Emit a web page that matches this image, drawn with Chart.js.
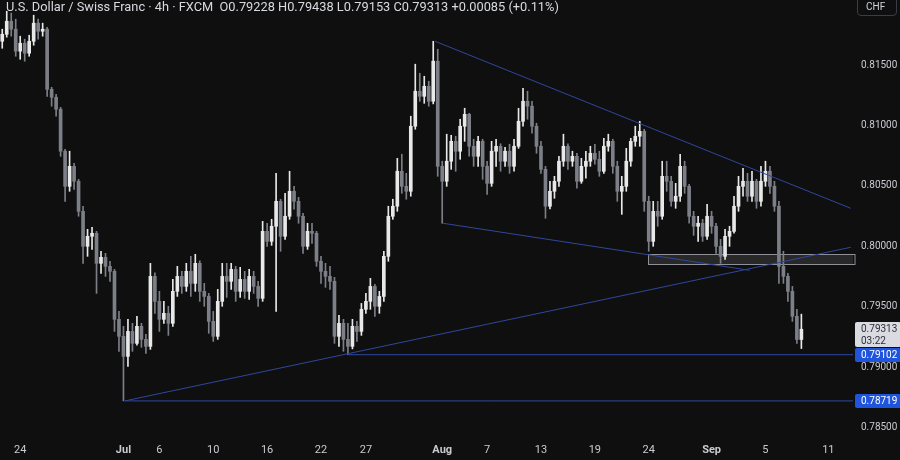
<!DOCTYPE html>
<html lang="en">
<head>
<meta charset="UTF-8">
<script src="https://cdn.jsdelivr.net/npm/chart.js@4.4.0/dist/chart.umd.min.js"></script>
<title>USD/CHF 4h</title>
<style>
  body { margin: 0; background: #0f0f0f; }
  #wrap { position: relative; width: 900px; height: 460px; background: #0f0f0f; }
  #head { position: absolute; left: 6px; top: -1px; font: 12.8px Roboto, sans-serif; color: #d8dae0; white-space: nowrap; }
  #cur { position: absolute; left: 857px; top: -4px; width: 40px; height: 20px; border: 1px solid #3a3d45; border-radius: 4px;
         box-sizing: border-box; padding: 4px 0 0 8px; font: 10px Roboto, sans-serif; color: #d1d4dc; }
</style>
</head>
<body>
<div id="wrap">
  <canvas id="chart"></canvas>
  <div id="head">U.S. Dollar / Swiss Franc · 4h · FXCM &nbsp;O0.79228 H0.79438 L0.79153 C0.79313 +0.00085 (+0.11%)</div>
  <div id="cur">CHF</div>
</div>
<script>
// 4h candles, one slot each (open = previous close)
const firstOpen = 0.81699;
const closes = [
  0.81757, 0.81865, 0.81799, 0.81617, 0.81683, 0.81600, 0.81699, 0.81849, 0.81782, 0.81799,
  0.81301, 0.81235, 0.81136, 0.80788, 0.80497, 0.80663, 0.80539, 0.80290, 0.80000, 0.80083,
  0.80108, 0.79859, 0.79909, 0.79834, 0.79793, 0.79395, 0.79254, 0.79088, 0.79295, 0.79196,
  0.79337, 0.79229, 0.79171, 0.79751, 0.79544, 0.79395, 0.79445, 0.79362, 0.79627, 0.79751,
  0.79668, 0.79793, 0.79693, 0.79859, 0.79627, 0.79585, 0.79378, 0.79254, 0.79544, 0.79751,
  0.79710, 0.79809, 0.79627, 0.79726, 0.79627, 0.79751, 0.79668, 0.79569, 0.80124, 0.80041,
  0.80166, 0.80373, 0.80083, 0.80249, 0.80456, 0.80373, 0.80249, 0.80000, 0.80124, 0.80108,
  0.79876, 0.79793, 0.79751, 0.79710, 0.79254, 0.79362, 0.79229, 0.79171, 0.79337, 0.79295,
  0.79478, 0.79544, 0.79668, 0.79503, 0.79585, 0.79917, 0.80249, 0.80332, 0.80622, 0.80497,
  0.80456, 0.80995, 0.81285, 0.81243, 0.81326, 0.81202, 0.81534, 0.80663, 0.80539, 0.80705,
  0.80870, 0.80788, 0.80995, 0.81094, 0.80829, 0.80746, 0.80870, 0.80663, 0.80522, 0.80788,
  0.80829, 0.80705, 0.80788, 0.80663, 0.80829, 0.81036, 0.81202, 0.81161, 0.80995, 0.80829,
  0.80638, 0.80332, 0.80456, 0.80539, 0.80705, 0.80829, 0.80705, 0.80746, 0.80539, 0.80663,
  0.80705, 0.80771, 0.80721, 0.80622, 0.80829, 0.80870, 0.80663, 0.80456, 0.80497, 0.80705,
  0.80870, 0.80912, 0.80953, 0.80373, 0.80041, 0.80290, 0.80249, 0.80580, 0.80539, 0.80373,
  0.80415, 0.80663, 0.80497, 0.80249, 0.80166, 0.80191, 0.80083, 0.80249, 0.80166, 0.80000,
  0.79917, 0.80083, 0.80124, 0.80332, 0.80497, 0.80539, 0.80415, 0.80539, 0.80373, 0.80539,
  0.80622, 0.80497, 0.80332, 0.79834, 0.79751, 0.79627, 0.79420, 0.79228, 0.79313
];
const highs = [
  0.81799, 0.81948, 0.81932, 0.81882, 0.81741, 0.81716, 0.81749, 0.81915, 0.81882, 0.81849,
  0.81815, 0.81318, 0.81260, 0.81152, 0.80804, 0.80788, 0.80688, 0.80555, 0.80332, 0.80141,
  0.80158, 0.80124, 0.79959, 0.79942, 0.79876, 0.79809, 0.79461, 0.79337, 0.79395, 0.79362,
  0.79420, 0.79362, 0.79270, 0.79859, 0.79780, 0.79627, 0.79544, 0.79503, 0.79726, 0.79834,
  0.79793, 0.79859, 0.79917, 0.79934, 0.79880, 0.79693, 0.79610, 0.79461, 0.79643, 0.79859,
  0.79859, 0.79859, 0.79834, 0.79826, 0.79793, 0.79809, 0.79793, 0.79710, 0.80207, 0.80191,
  0.80224, 0.80605, 0.80390, 0.80439, 0.80622, 0.80497, 0.80406, 0.80273, 0.80191, 0.80191,
  0.80124, 0.79917, 0.79859, 0.79834, 0.79743, 0.79428, 0.79395, 0.79362, 0.79395, 0.79378,
  0.79527, 0.79610, 0.79735, 0.79685, 0.79627, 0.79959, 0.80332, 0.80390, 0.80729, 0.80763,
  0.80605, 0.81078, 0.81509, 0.81434, 0.81409, 0.81368, 0.81699, 0.81633, 0.80705, 0.80929,
  0.80920, 0.80912, 0.81053, 0.81144, 0.81102, 0.80887, 0.80912, 0.80887, 0.80705, 0.80870,
  0.80887, 0.80850, 0.80821, 0.80846, 0.80887, 0.81144, 0.81310, 0.81285, 0.81202, 0.81020,
  0.80870, 0.80663, 0.80539, 0.80580, 0.80746, 0.80929, 0.80850, 0.80788, 0.80771, 0.80729,
  0.80788, 0.80829, 0.80846, 0.80788, 0.80895, 0.80929, 0.80887, 0.80705, 0.80580, 0.80812,
  0.80895, 0.80995, 0.81036, 0.80970, 0.80415, 0.80373, 0.80373, 0.80705, 0.80705, 0.80580,
  0.80522, 0.80763, 0.80705, 0.80514, 0.80290, 0.80249, 0.80224, 0.80348, 0.80290, 0.80191,
  0.80058, 0.80141, 0.80166, 0.80415, 0.80580, 0.80647, 0.80605, 0.80622, 0.80555, 0.80663,
  0.80705, 0.80663, 0.80539, 0.80373, 0.79959, 0.79776, 0.79668, 0.79478, 0.79438
];
const lows = [
  0.81641, 0.81733, 0.81741, 0.81575, 0.81550, 0.81534, 0.81575, 0.81666, 0.81716, 0.81741,
  0.81243, 0.81161, 0.81078, 0.80746, 0.80373, 0.80456, 0.80472, 0.80249, 0.79859, 0.79917,
  0.79975, 0.79610, 0.79776, 0.79751, 0.79710, 0.79295, 0.79130, 0.78719, 0.79005, 0.79130,
  0.79180, 0.79163, 0.79113, 0.79146, 0.79445, 0.79295, 0.79362, 0.79262, 0.79337, 0.79585,
  0.79610, 0.79627, 0.79585, 0.79627, 0.79544, 0.79503, 0.79279, 0.79212, 0.79229, 0.79503,
  0.79577, 0.79643, 0.79544, 0.79577, 0.79569, 0.79561, 0.79610, 0.79503, 0.79544, 0.80000,
  0.80008, 0.79461, 0.79959, 0.80058, 0.80224, 0.80307, 0.80191, 0.79942, 0.79975, 0.80025,
  0.79834, 0.79693, 0.79660, 0.79643, 0.79196, 0.79171, 0.79130, 0.79102, 0.79150, 0.79212,
  0.79262, 0.79445, 0.79478, 0.79420, 0.79445, 0.79544, 0.79876, 0.80224, 0.80290, 0.80439,
  0.80390, 0.80415, 0.80970, 0.81202, 0.81185, 0.81161, 0.81180, 0.80580, 0.80191, 0.80497,
  0.80638, 0.80622, 0.80721, 0.80870, 0.80746, 0.80663, 0.80663, 0.80555, 0.80431, 0.80497,
  0.80663, 0.80622, 0.80663, 0.80605, 0.80622, 0.80812, 0.80995, 0.81053, 0.80937, 0.80771,
  0.80605, 0.80232, 0.80310, 0.80398, 0.80497, 0.80663, 0.80638, 0.80663, 0.80481, 0.80522,
  0.80564, 0.80663, 0.80680, 0.80580, 0.80605, 0.80788, 0.80605, 0.80373, 0.80265, 0.80456,
  0.80663, 0.80829, 0.80829, 0.80290, 0.79959, 0.80000, 0.80166, 0.80224, 0.80456, 0.80332,
  0.80315, 0.80373, 0.80439, 0.80191, 0.80091, 0.80041, 0.80041, 0.80058, 0.80108, 0.79942,
  0.79859, 0.79892, 0.80000, 0.80108, 0.80290, 0.80415, 0.80373, 0.80373, 0.80315, 0.80332,
  0.80497, 0.80439, 0.80290, 0.79693, 0.79693, 0.79544, 0.79378, 0.79196, 0.79153
];

// x axis: slot positions of the date labels
const tickSlots = [4, 27, 35, 47, 59, 71, 81, 98, 108, 120, 132, 144, 158, 170, 184];
const tickLabels = ['24', 'Jul', '6', '10', '16', '22', '27', 'Aug', '7', '13', '19', '24', 'Sep', '5', '11'];
const priceTicks = [0.785, 0.79, 0.795, 0.8, 0.805, 0.81, 0.815];

// drawn lines: [slot, price] pairs
const wedgeTop = [[96.4, 0.81699], [189.0, 0.80315]];
const wedgeBottom = [[98.2, 0.80191], [166.5, 0.79801]];
const risingLine = [[27.3, 0.78719], [189.0, 0.79992]];
const supportLow = [[27.3, 0.78719], [189.5, 0.78719]];
const supportHigh = [[77, 0.79102], [189.5, 0.79102]];
const zoneStart = 143.8;
const zonePrices = [0.79934, 0.79851];

// price tags on the axis
const lastPrice = 0.79313;
const countdown = '03:22';
const levelTags = [0.79102, 0.78719];

const opens = closes.map((c, i) => i === 0 ? firstOpen : closes[i - 1]);
const slots = closes.map((c, i) => i);
const colors = closes.map((c, i) => c >= opens[i] ? '#e8e8e8' : '#7c7f87');
const lineBlue = '#30479e';

function lineSet(pts) {
  return {
    type: 'line',
    data: pts.map(p => ({ x: p[0], y: p[1] })),
    borderColor: lineBlue,
    borderWidth: 1,
    pointRadius: 0,
    tension: 0,
    order: 0
  };
}

const overlay = {
  id: 'overlay',
  beforeDatasetsDraw(chart) {
    const { ctx, chartArea, scales: { x, y } } = chart;
    const left = Math.round(x.getPixelForValue(zoneStart)) + 0.5;
    const top = Math.round(y.getPixelForValue(zonePrices[0])) + 0.5;
    const bottom = Math.round(y.getPixelForValue(zonePrices[1])) + 0.5;
    ctx.save();
    ctx.fillStyle = 'rgba(130,130,130,0.22)';
    ctx.fillRect(left, top, chartArea.right - left, bottom - top);
    ctx.strokeStyle = '#8e9096';
    ctx.lineWidth = 1;
    ctx.strokeRect(left, top, chartArea.right - left + 2, bottom - top);
    ctx.restore();
  },
  afterDraw(chart) {
    const { ctx, chartArea, scales: { y } } = chart;
    const bx = chartArea.right + 2;
    const bw = 46;
    ctx.save();
    ctx.font = '10px Roboto, sans-serif';
    ctx.textBaseline = 'middle';
    ctx.textAlign = 'left';
    const py = Math.round(y.getPixelForValue(lastPrice));
    ctx.fillStyle = '#d9dbe1';
    ctx.beginPath(); ctx.roundRect(bx, py - 7, bw, 25, 2); ctx.fill();
    ctx.fillStyle = '#2a2e39';
    ctx.fillText(lastPrice.toFixed(5), bx + 6, py);
    ctx.fillText(countdown, bx + 6, py + 12);
    levelTags.forEach(v => {
      const ty = Math.round(y.getPixelForValue(v));
      ctx.fillStyle = '#1f54dc';
      ctx.beginPath(); ctx.roundRect(bx, ty - 7, bw, 14, 2); ctx.fill();
      ctx.fillStyle = '#ffffff';
      ctx.fillText(v.toFixed(5), bx + 6, ty);
    });
    ctx.restore();
  }
};

new Chart(document.getElementById('chart'), {
  type: 'bar',
  data: {
    datasets: [
      {
        data: slots.map(i => ({ x: i, y: [lows[i], highs[i]] })),
        backgroundColor: colors, barThickness: 1, grouped: false, order: 2
      },
      {
        data: slots.map(i => ({ x: i, y: [opens[i], closes[i]] })),
        backgroundColor: colors, barThickness: 3, minBarLength: 1, grouped: false, order: 1
      },
      lineSet(wedgeTop),
      lineSet(wedgeBottom),
      lineSet(risingLine),
      lineSet(supportLow),
      lineSet(supportHigh)
    ]
  },
  options: {
    responsive: true,
    maintainAspectRatio: false,
    animation: false,
    layout: { padding: 0 },
    plugins: { legend: { display: false }, tooltip: { enabled: false } },
    scales: {
      x: {
        type: 'linear', min: -0.5, max: 189.5, offset: false,
        grid: { display: false, drawTicks: false }, border: { display: false },
        afterBuildTicks: s => { s.ticks = tickSlots.map(v => ({ value: v })); },
        afterFit: s => { s.height = 23; s.paddingLeft = 0; s.paddingRight = 0; },
        ticks: {
          autoSkip: false, maxRotation: 0, padding: 7, color: '#c9cbd1',
          font: c => ({ family: 'Roboto', size: 11, weight: /^[A-Z]/.test(tickLabels[c.index] || '') ? 'bold' : 'normal' }),
          callback: (v, i) => tickLabels[i]
        }
      },
      y: {
        position: 'right', min: 0.7842, max: 0.82041,
        grid: { display: false, drawTicks: false }, border: { display: false },
        afterBuildTicks: s => { s.ticks = priceTicks.map(v => ({ value: v })); },
        afterFit: s => { s.width = 47; s.paddingTop = 0; s.paddingBottom = 0; },
        ticks: { padding: 8, color: '#c9cbd1', font: { family: 'Roboto', size: 10 }, callback: v => v.toFixed(5) }
      }
    }
  },
  plugins: [overlay]
});
</script>
</body>
</html>
